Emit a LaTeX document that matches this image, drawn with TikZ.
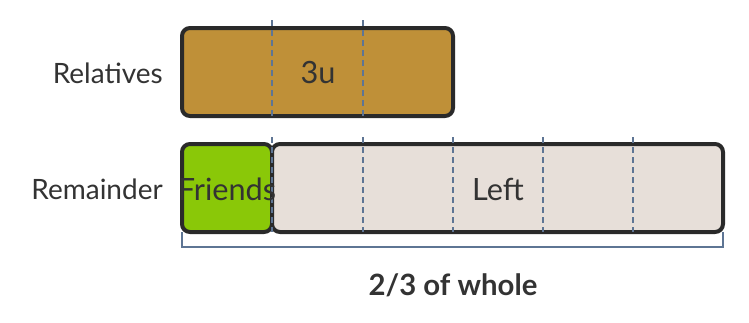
\documentclass[tikz,border=0pt]{standalone}
\usepackage{fontspec}
\setmainfont{Lato}
\definecolor{gold}{HTML}{BF9038}
\definecolor{lime}{HTML}{8AC808}
\definecolor{pale}{HTML}{E7DFD9}
\definecolor{edge}{HTML}{2A2A2A}
\definecolor{slate}{HTML}{5E7594}
\definecolor{ink}{HTML}{333333}
\tikzset{
  bar/.style={draw=edge, line width=3pt, rounded corners=6pt, inner sep=0pt, outer sep=0pt},
  divider/.style={draw=slate, line width=1.3pt, dash pattern=on 4.5pt off 3pt},
  brace/.style={draw=slate, line width=1.6pt},
  rowlabel/.style={text=ink, anchor=east, font=\fontsize{21}{24}\selectfont, inner sep=0pt},
  boxlabel/.style={text=ink, font=\fontsize{23}{26}\selectfont, inner sep=0pt},
}
\begin{document}
\begin{tikzpicture}[x=0.75pt, y=-0.75pt]
\useasboundingbox (0,0) rectangle (749,322);
% boxes
\node[bar, fill=gold, minimum width=271pt*0.75, minimum height=88pt*0.75, anchor=north west] (rel) at (182,28) {};
\node[bar, fill=lime, minimum width=90pt*0.75, minimum height=88pt*0.75, anchor=north west] (fr) at (182,144) {};
\node[bar, fill=pale, minimum width=451pt*0.75, minimum height=88pt*0.75, anchor=north west] (left) at (272,144) {};
% dividers
\coordinate (d1t) at (272,20); \coordinate (d1b) at (272,117);
\coordinate (d2t) at (363,20); \coordinate (d2b) at (363,117);
\draw[divider] (d1t) -- (d1b);
\draw[divider] (d2t) -- (d2b);
\foreach \x in {272,363,453,543,633}{
  \draw[divider] (\x,137) -- (\x,232);
}
% bracket
\draw[brace] (fr.south west) -- ++(0,15) -| (left.south east);
% labels
\node[rowlabel] (lrel) at (163,73) {Relatives};
\node[rowlabel] (lrem) at (163,189) {Remainder};
\node[boxlabel] (t3u) at (318,73) {3u};
\node[boxlabel] (tfr) at (227,189) {Friends};
\node[boxlabel] (tleft) at (498,189) {Left};
\node[text=ink, font=\fontsize{22}{25}\selectfont\bfseries, inner sep=0pt] (twhole) at (453,285) {2/3 of whole};
\end{tikzpicture}
\end{document}
